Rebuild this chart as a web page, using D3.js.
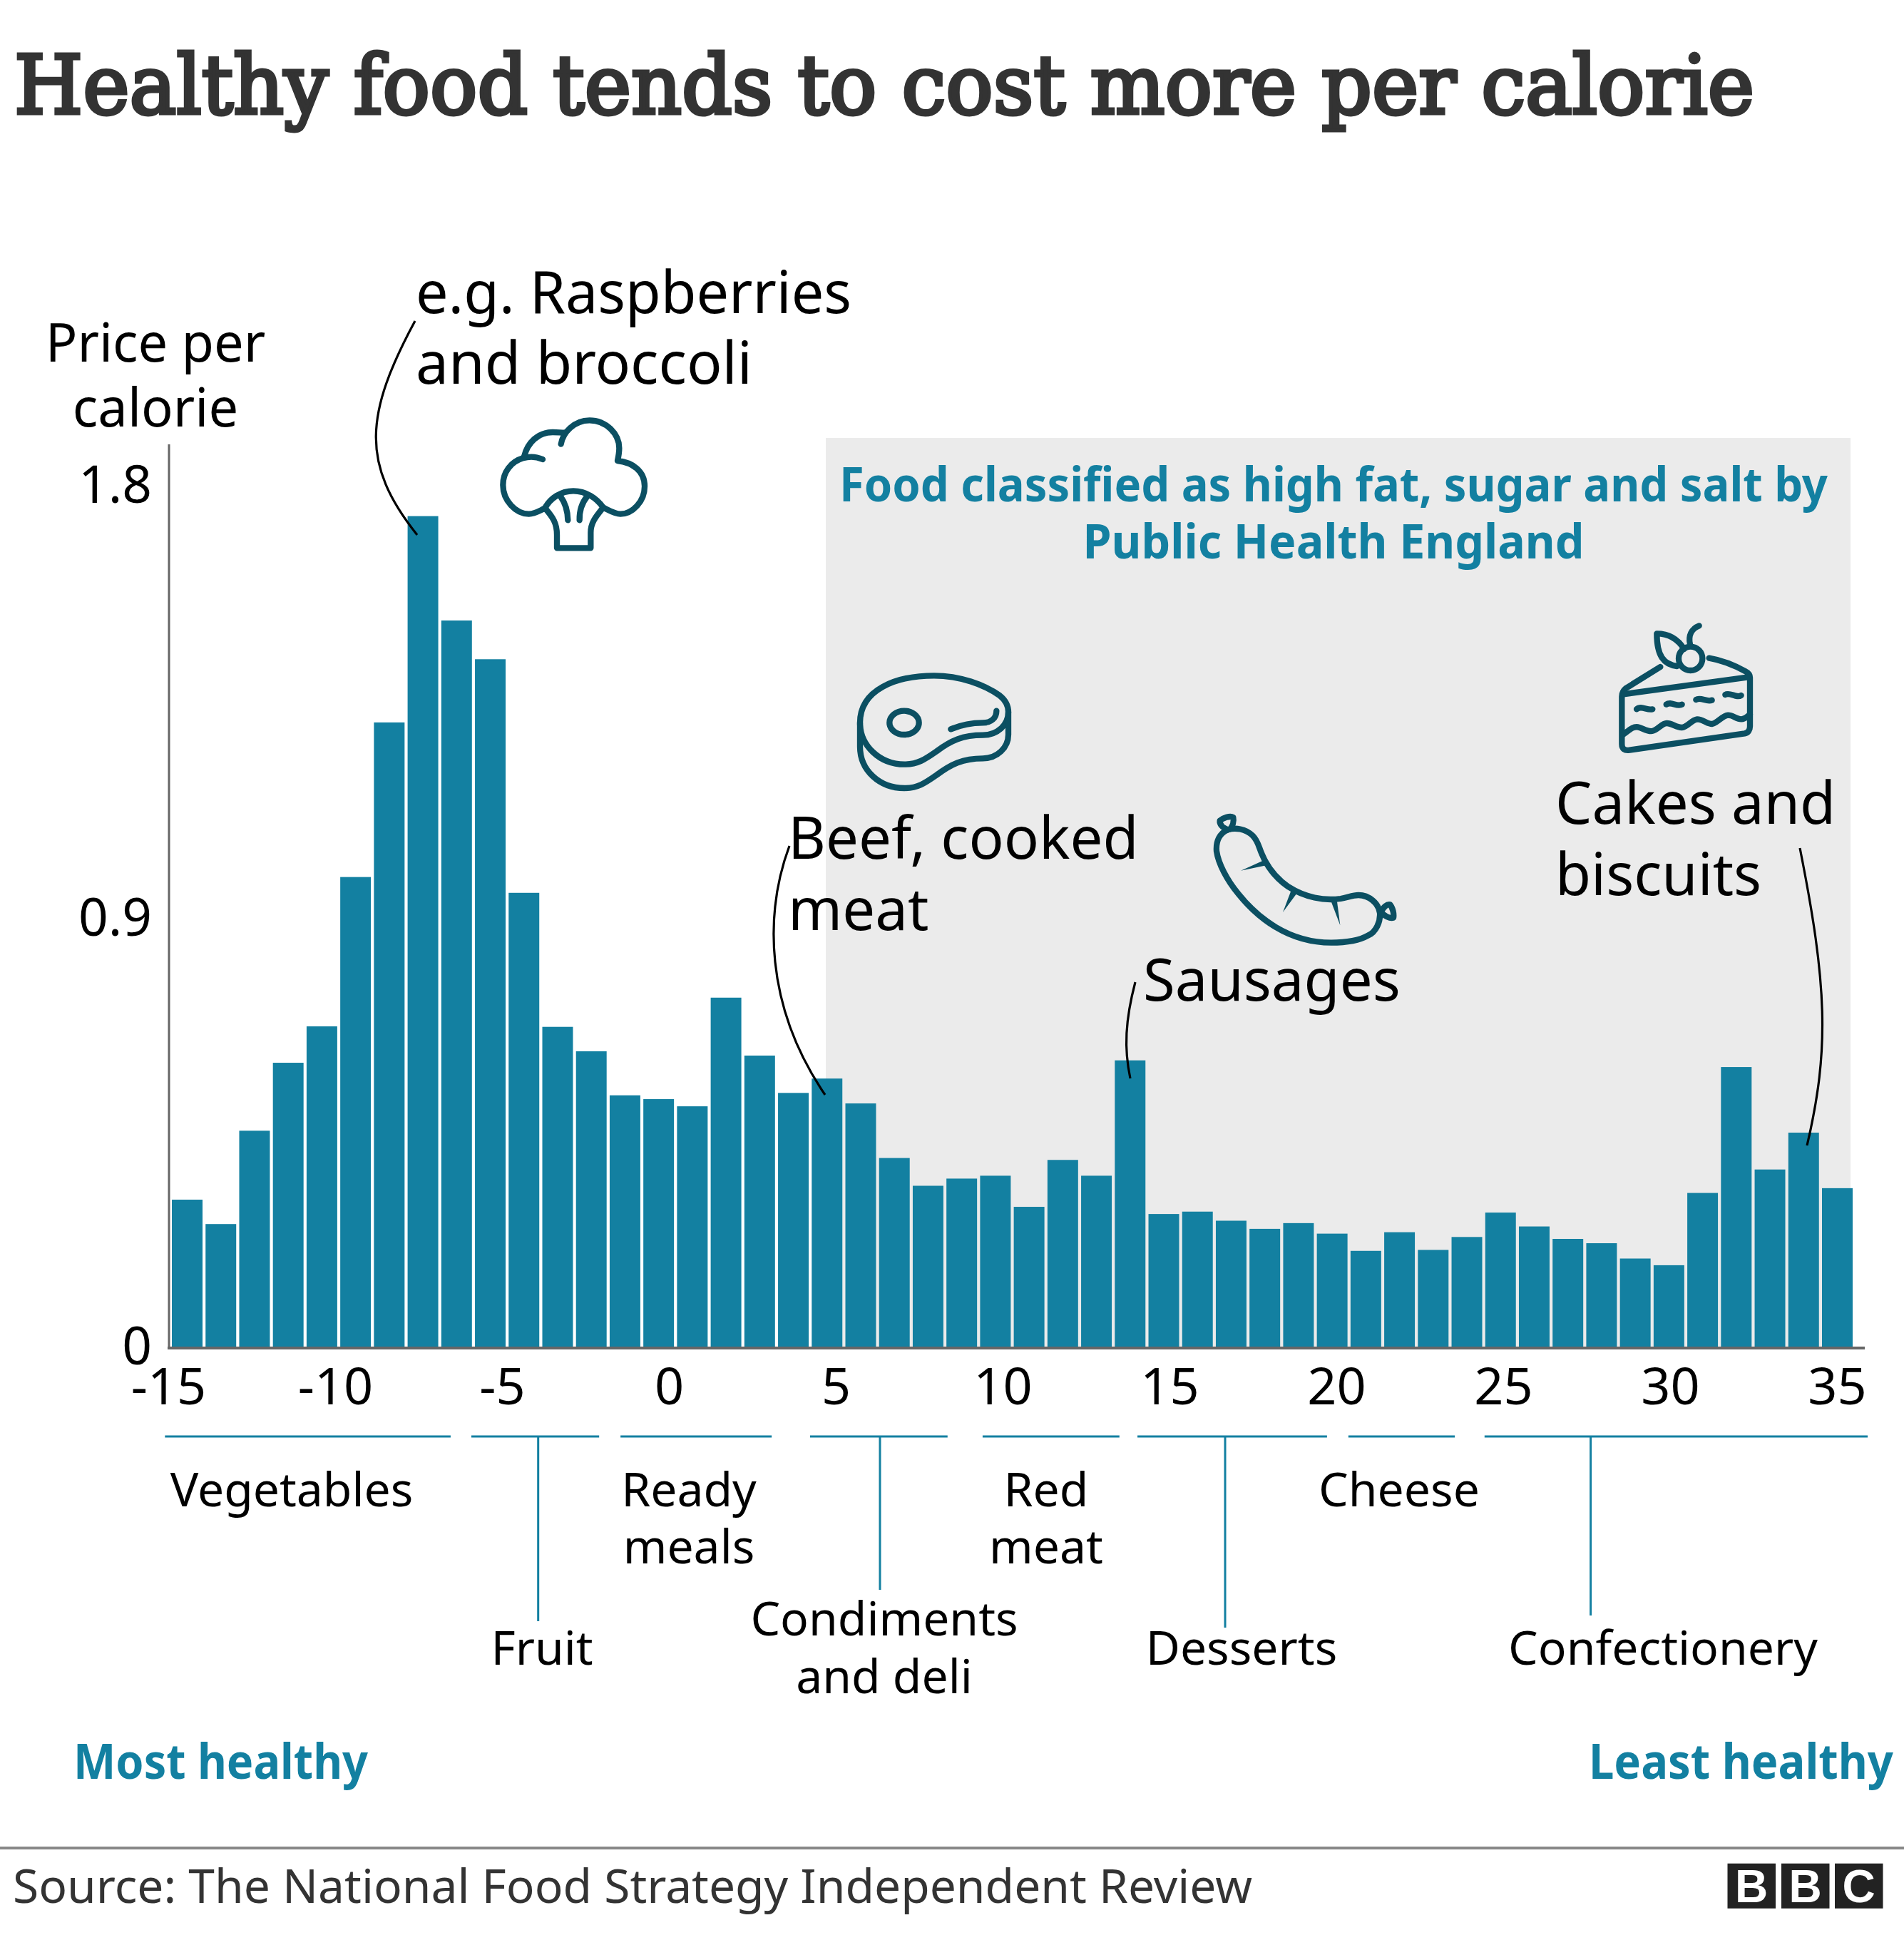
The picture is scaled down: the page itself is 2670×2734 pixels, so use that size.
<!DOCTYPE html>
<html><head><meta charset="utf-8">
<script src="https://d3js.org/d3.v7.min.js"></script>
<style>html,body{margin:0;padding:0;background:#fff}svg{display:block}text{font-family:"Noto Sans",sans-serif}</style>
</head><body><svg id="c" width="2670" height="2734"></svg>
<script>
const barIndex = d3.range(-15, 35);
const prices = [0.307,0.256,0.451,0.593,0.669,0.981,1.304,1.735,1.517,1.436,0.948,0.668,0.617,0.525,0.517,0.502,0.729,0.608,0.530,0.560,0.508,0.394,0.336,0.351,0.357,0.292,0.390,0.357,0.598,0.277,0.282,0.263,0.246,0.258,0.236,0.200,0.239,0.202,0.229,0.280,0.251,0.225,0.216,0.184,0.170,0.321,0.584,0.370,0.447,0.331];
const xTicks = [-15,-10,-5,0,5,10,15,20,25,30,35];
const yTicks = [0,0.9,1.8];
const groupNames = ["Vegetables","Fruit","Ready meals","Condiments and deli","Red meat","Desserts","Cheese","Confectionery"];
const groupStart = [-15.1,-5.92,-1.45,4.23,9.4,14.04,20.36,24.44];
const groupEnd = [-6.54,-2.09,3.08,8.35,13.5,19.72,23.55,35.92];

const svg = d3.select("#c");
const BLUE="#1380a1", DARK="#0b4f62", BLK="#000";
const x = d3.scaleBand().domain(barIndex).range([238.9,2600.1]).paddingInner(0.09).paddingOuter(0.045);
const xAxisScale = d3.scaleLinear().domain([-15,35]).range([236,2576]);
const y = d3.scaleLinear().domain([0,1.8]).range([1888,680]);

function txt(s,px,py,size,opts={}){
  const t=svg.append("text").attr("x",px).attr("y",py).attr("font-size",size).attr("fill",opts.fill||BLK)
    .attr("text-anchor",opts.anchor||"start").attr("font-weight",opts.weight||400).text(s);
  if(opts.family)t.style("font-family",opts.family);
  if(opts.len)t.attr("textLength",opts.len).attr("lengthAdjust","spacingAndGlyphs");
  return t;
}
// panel
svg.append("rect").attr("x",1158).attr("y",614).attr("width",1437).attr("height",1274).attr("fill","#ebebeb");
// title
txt("Healthy food tends to cost more per calorie",20,159,114,{fill:"#333",family:'"DejaVu Serif",serif',len:2440})
  .attr("stroke","#333").attr("stroke-width",5);
// bars
svg.append("g").selectAll("rect").data(prices).join("rect")
  .attr("x",(d,i)=>x(barIndex[i])).attr("width",x.bandwidth())
  .attr("y",d=>y(d)).attr("height",d=>y(0)-y(d)).attr("fill",BLUE);
// axes
const gy=svg.append("g").attr("transform","translate(237,0)")
  .call(d3.axisLeft(y).tickValues(yTicks).tickSize(0).tickPadding(24).tickFormat(d=>d));
gy.select(".domain").remove();
gy.selectAll("text").attr("font-size",73).attr("fill",BLK).attr("dy",d=>d===0?"0.34em":d===0.9?"0.38em":"0.34em").style("font-family",'"Noto Sans",sans-serif');
svg.append("line").attr("x1",237).attr("x2",237).attr("y1",623).attr("y2",1890).attr("stroke","#666").attr("stroke-width",3);
const gx=svg.append("g").attr("transform","translate(0,1890)")
  .call(d3.axisBottom(xAxisScale).tickValues(xTicks).tickSize(0).tickPadding(26).tickFormat(d=>d));
gx.select(".domain").remove();
gx.selectAll("text").attr("font-size",72).attr("fill",BLK).attr("y",0).attr("dy",79).style("font-family",'"Noto Sans",sans-serif');
svg.append("line").attr("x1",235).attr("x2",2615).attr("y1",1890).attr("y2",1890).attr("stroke","#666").attr("stroke-width",4);
// axis title
txt("Price per",218,507,74,{anchor:"middle"});
txt("calorie",218,598,74,{anchor:"middle"});
// groups
groupNames.forEach((n,i)=>{
  svg.append("line").attr("x1",xAxisScale(groupStart[i])).attr("x2",xAxisScale(groupEnd[i])).attr("y1",2014).attr("y2",2014).attr("stroke",BLUE).attr("stroke-width",3);
});
[[754.7,2273],[1234,2229],[1718,2282],[2230.6,2265]].forEach(([a,b])=>svg.append("line").attr("x1",a).attr("x2",a).attr("y1",2014).attr("y2",b).attr("stroke",BLUE).attr("stroke-width",3));
const gs=66;
txt("Vegetables",409,2112,gs,{anchor:"middle"});
txt("Ready",966,2112,gs,{anchor:"middle"});txt("meals",966,2192,gs,{anchor:"middle"});
txt("Fruit",760,2334,gs,{anchor:"middle"});
txt("Condiments",1240,2293,gs,{anchor:"middle"});txt("and deli",1240,2374,gs,{anchor:"middle"});
txt("Red",1467,2112,gs,{anchor:"middle"});txt("meat",1467,2192,gs,{anchor:"middle"});
txt("Cheese",1962,2112,gs,{anchor:"middle"});
txt("Desserts",1741,2334,gs,{anchor:"middle"});
txt("Confectionery",2332,2334,gs,{anchor:"middle"});
txt("Most healthy",103,2493.6,68,{weight:700,fill:BLUE,len:413});
txt("Least healthy",2228,2493.6,68,{weight:700,fill:BLUE,len:427});
txt("Food classified as high fat, sugar and salt by",1870,703,66,{weight:700,fill:BLUE,anchor:"middle",len:1386});
txt("Public Health England",1870,783,66,{weight:700,fill:BLUE,anchor:"middle",len:703});
// annotations
const as=81.5;
txt("e.g. Raspberries",583,439,as,{len:611});txt("and broccoli",583,537.5,as,{len:472});
txt("Beef, cooked",1105,1204,as);txt("meat",1105,1303.5,as);
txt("Sausages",1603,1403,as);
txt("Cakes and",2181,1155,as);txt("biscuits",2181,1254.5,as);
["M582,450 C512,580 505,650 585,750","M1107,1186 C1072,1280 1072,1410 1157,1535","M1592,1377 C1578,1430 1576,1470 1585,1512","M2524,1189 C2562,1380 2566,1470 2534,1606"]
 .forEach(d=>svg.append("path").attr("d",d).attr("fill","none").attr("stroke",BLK).attr("stroke-width",3.2));
// icons
function icon(tx,ty,paths,fills=[]){
  const g=svg.append("g").attr("transform",`translate(${tx},${ty}) scale(${1/3})`).attr("fill","none").attr("stroke",DARK).attr("stroke-width",25).attr("stroke-linejoin","round");
  paths.forEach(d=>g.append("path").attr("d",d).attr("stroke-linecap","round"));
  fills.forEach(d=>g.append("path").attr("d",d).attr("fill",DARK).attr("stroke","none"));
}
icon(680,570,[
 "M320,158 C328,110 375,58 440,58 C510,58 565,115 565,175 C565,195 562,210 558,228 C620,235 672,270 672,335 C672,400 620,452 570,452 C545,452 520,435 498,425",
 "M243,222 C220,212 190,208 160,217 C110,232 76,275 76,330 C76,395 130,452 185,452 C210,452 230,438 252,428",
 "M165,210 C180,150 225,108 285,108 C305,108 320,110 335,110",
 "M252,428 C275,385 320,355 372,355 C425,355 470,385 498,425",
 "M255,430 C285,465 303,490 303,540 L303,595 L445,595 L445,530 C445,490 465,465 495,428",
 "M318,378 C338,405 348,435 349,478","M430,378 C408,405 397,435 398,478"]);
icon(1190,930,[
 "M48,250 C48,110 200,52 360,52 C470,52 570,90 635,135 C660,155 672,180 672,205 C672,260 625,302 565,302 C480,302 430,325 370,370 C320,405 290,425 235,425 C130,425 48,345 48,250 Z",
 "M48,250 L48,350 C48,450 130,525 235,525 C290,525 320,505 370,470 C430,425 480,400 565,400 C625,400 672,355 672,300 L672,205",
 "M234,200 C200,200 172,222 172,250 C172,278 200,300 234,300 C268,300 296,278 296,250 C296,222 268,200 234,200 Z",
 "M430,277 C475,258 520,250 565,250 C600,250 622,230 622,200"]);
icon(1690,1130,[
 "M95,100 C60,115 45,150 48,190 C55,240 90,310 140,370 C220,470 350,575 530,575 C590,575 650,565 685,545 C720,530 738,485 735,450 C730,410 690,375 645,375 C620,375 600,385 570,390 C500,400 420,385 350,340 C300,305 265,265 240,205 C225,175 225,150 200,125 C170,95 125,90 95,100 Z",
 "M95,100 C70,90 60,75 62,62 C75,50 105,40 118,48 C122,65 115,85 105,97",
 "M740,445 C750,425 765,412 778,415 C790,430 795,455 792,470 C780,475 760,465 742,450"],
 ["M243,230 L150,272 L257,250 Z","M362,355 L327,447 L385,368 Z","M530,402 L568,502 L555,402 Z"]);
icon(2260,860,[
 "M205,225 L60,315 C48,325 43,335 43,350 L43,550 C43,570 55,578 75,575 L560,505 C575,502 582,490 582,475 L582,270 C582,260 575,250 565,245 C520,220 470,198 410,188",
 "M50,340 L575,268",
 "M48,510 C75,490 90,475 110,478 C130,482 150,498 170,495 C195,490 210,462 232,462 C255,462 270,480 295,480 C320,478 335,448 360,445 C385,445 400,465 422,465 C445,462 465,430 490,428 C510,428 525,445 545,445 C560,445 570,435 582,425",
 "M105,403 C125,385 150,410 172,403","M230,383 C250,368 275,395 296,383","M355,363 C375,350 400,375 422,365","M478,342 C498,330 525,358 545,345",
 "M275,222 C220,215 190,180 190,85 C240,85 280,110 305,150",
 "M332,140 C304,140 282,162 282,190 C282,218 304,240 332,240 C360,240 382,218 382,190 C382,162 360,140 332,140 Z",
 "M330,130 C322,95 335,65 368,52"]);
// footer
svg.append("line").attr("x1",0).attr("x2",2670).attr("y1",2591).attr("y2",2591).attr("stroke","#888").attr("stroke-width",4);
txt("Source: The National Food Strategy Independent Review",18,2668,66,{fill:"#333",len:1738});
["B","B","C"].forEach((c,i)=>{
  const bx=[2422.5,2498,2573][i];
  svg.append("rect").attr("x",bx).attr("y",2612.7).attr("width",67.5).attr("height",63).attr("fill","#222");
  svg.append("text").attr("x",bx+33.7).attr("y",2667).attr("text-anchor","middle").attr("font-size",64).attr("font-weight",700).attr("fill","#fff").style("font-family",'"Liberation Sans",sans-serif').text(c);
});
</script></body></html>
